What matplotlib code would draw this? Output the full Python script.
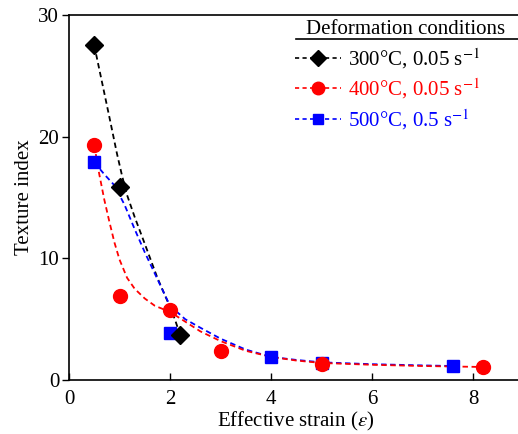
import matplotlib
matplotlib.use("Agg")
import matplotlib.pyplot as plt
from matplotlib.lines import Line2D

plt.rcParams['font.family'] = ['Liberation Serif', 'DejaVu Serif']
plt.rcParams['mathtext.fontset'] = 'stix'

# measured points
x_300 = [0.5, 1.0, 2.2]
y_300 = [27.5, 15.9, 3.7]
x_400 = [0.5, 1.0, 2.0, 3.0, 5.0, 8.2]
y_400 = [19.3, 6.9, 5.75, 2.35, 1.3, 1.07]
x_500 = [0.5, 2.0, 4.0, 5.0, 7.6]
y_500 = [17.9, 3.9, 1.9, 1.4, 1.15]

# guide curves
gx_300 = [0.5, 0.8, 0.95, 1.05, 1.15, 1.3, 1.5, 1.75, 2.0, 2.1, 2.2]
gy_300 = [27.5, 21.6, 18.6, 16.8, 15.2, 13.4, 11.2, 8.4, 6.0, 4.95, 3.7]
gx_400 = [0.5, 0.6, 0.7, 0.8, 0.9, 1.0, 1.15, 1.3, 1.5, 1.7, 2.0, 2.3, 2.6, 3.0, 3.5,
          4.0, 4.5, 5.0, 6.0, 7.0, 8.2]
gy_400 = [19.3, 16.9, 14.8, 13.0, 11.3, 9.9, 8.4, 7.5, 6.7, 6.1, 5.6, 4.8, 4.0, 3.2, 2.4,
          1.9, 1.6, 1.4, 1.25, 1.15, 1.07]
gx_500 = [0.5, 0.7, 0.9, 1.1, 1.3, 1.5, 1.75, 2.0, 2.3, 2.6, 3.0, 3.5, 4.0, 4.5, 5.0,
          6.0, 7.0, 7.6]
gy_500 = [17.9, 16.9, 16.0, 14.4, 12.4, 10.5, 8.3, 6.1, 5.0, 4.3, 3.4, 2.5, 1.9, 1.65, 1.45,
          1.3, 1.2, 1.15]

labels = ['300°C, 0.05 s$^{-1}$', '400°C, 0.05 s$^{-1}$', '500°C, 0.5 s$^{-1}$']
colors = ['black', '#ff0000', '#0000ff']

fig = plt.figure(figsize=(5.18, 4.34), dpi=100)
ax = fig.add_axes([69 / 518, 54 / 434, 454.5 / 518, 365 / 434])

dash = (3, 2)
ax.plot(gx_300, gy_300, color=colors[0], lw=1.3, dashes=dash)
ax.plot(gx_500, gy_500, color=colors[2], lw=1.3, dashes=dash)
ax.plot(gx_400, gy_400, color=colors[1], lw=1.3, dashes=dash)

ax.plot(x_500, y_500, 's', color=colors[2], ms=8.5, ls='none')
ax.plot(x_400, y_400, 'o', color=colors[1], ms=10, ls='none')
ax.plot(x_300, y_300, 'D', color=colors[0], ms=9, ls='none')

ax.set_xlim(0, 9)
ax.set_ylim(0, 30)
ax.set_xticks([0, 2, 4, 6, 8])
ax.set_yticks([0, 10, 20, 30])
ax.tick_params(axis='x', direction='in', length=5, width=1, labelsize=15, pad=7)
ax.tick_params(axis='y', direction='out', length=5, width=1, labelsize=15, pad=2)
ax.spines['right'].set_visible(False)
for s in ['left', 'bottom', 'top']:
    ax.spines[s].set_linewidth(1.2)

ax.set_xlabel(r'Effective strain ($\varepsilon$)', fontsize=15, labelpad=1)
ax.set_ylabel('Texture index', fontsize=15, labelpad=3)

markers = ['D', 'o', 's']
sizes = [8, 9, 7.5]
handles = [Line2D([], [], color=c, marker=m, ms=s, dashes=(2.5, 2), lw=1.2)
           for c, m, s in zip(colors, markers, sizes)]
leg = fig.legend(handles, labels, loc='upper left',
                 bbox_to_anchor=(291 / 518, 1 - 42 / 434),
                 frameon=False, fontsize=15, handlelength=2.2,
                 handletextpad=0.35, labelspacing=0.28, borderaxespad=0,
                 borderpad=0.2)
for t, c in zip(leg.get_texts(), colors):
    t.set_color(c)

# legend heading with its underline
fig.text(406 / 518, 1 - 29 / 434, 'Deformation conditions', fontsize=15,
         ha='center', va='center')
fig.add_artist(Line2D([296 / 518, 1.0], [1 - 39 / 434, 1 - 39 / 434],
                      transform=fig.transFigure, color='black', lw=1.2))

fig.savefig('out.png', dpi=100)
